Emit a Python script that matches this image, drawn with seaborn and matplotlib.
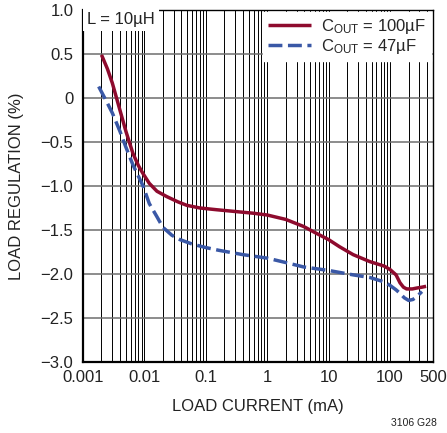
import matplotlib
matplotlib.use("Agg")
import matplotlib.pyplot as plt
from matplotlib.ticker import FixedLocator, FixedFormatter, NullFormatter
import seaborn as sns
import pandas as pd
import numpy as np

sns.set_theme(style="white")
plt.rcParams['font.family'] = ['Liberation Sans Narrow', 'Liberation Sans', 'DejaVu Sans']
plt.rcParams['mathtext.default'] = 'regular'
plt.rcParams['axes.unicode_minus'] = True

# ========== 数据 ==========
i_100uF = [0.002, 0.0025, 0.003, 0.004, 0.005, 0.0065, 0.008, 0.0095, 0.012, 0.016, 0.023,
           0.035, 0.049, 0.08, 0.15, 0.3, 0.6, 1, 2, 3.9, 6, 10, 15, 25, 47, 80, 100,
           125, 145, 165, 186, 230, 270, 330, 386]
reg_100uF = [0.49, 0.33, 0.17, -0.14, -0.38, -0.63, -0.77, -0.86, -0.97, -1.06, -1.12,
             -1.18, -1.22, -1.25, -1.27, -1.29, -1.31, -1.33, -1.38, -1.46, -1.53, -1.61,
             -1.69, -1.78, -1.86, -1.91, -1.95, -2.01, -2.10, -2.15, -2.17, -2.17, -2.16,
             -2.15, -2.14]

i_47uF = [0.0018, 0.0025, 0.003, 0.004, 0.005, 0.0065, 0.0095, 0.012, 0.016, 0.02, 0.028,
          0.038, 0.06, 0.1, 0.16, 0.4, 1, 2, 3.9, 10, 25, 47, 80, 100, 125, 145, 170,
          200, 235, 270, 330]
reg_47uF = [0.13, -0.06, -0.17, -0.38, -0.56, -0.76, -1.0, -1.2, -1.35, -1.47, -1.56,
            -1.61, -1.66, -1.70, -1.73, -1.78, -1.82, -1.87, -1.92, -1.96, -2.01, -2.04,
            -2.09, -2.13, -2.18, -2.22, -2.27, -2.30, -2.29, -2.26, -2.20]

series_names = ["C$_{OUT}$ = 100µF", "C$_{OUT}$ = 47µF"]
series_colors = ["#8E0B2E", "#3A58A6"]

x_ticks = [0.001, 0.01, 0.1, 1, 10, 100, 500]
x_ticklabels = ["0.001", "0.01", "0.1", "1", "10", "100", "500"]
y_ticks = [-3.0, -2.5, -2.0, -1.5, -1.0, -0.5, 0, 0.5, 1.0]
y_ticklabels = ["−3.0", "−2.5", "−2.0", "−1.5", "−1.0", "−0.5", "0", "0.5", "1.0"]

df = pd.concat([
    pd.DataFrame({"current": i_100uF, "reg": reg_100uF, "cap": series_names[0]}),
    pd.DataFrame({"current": i_47uF, "reg": reg_47uF, "cap": series_names[1]}),
], ignore_index=True)

# ========== 绘图 ==========
fig = plt.figure(figsize=(4.47, 4.33), dpi=100)
ax = fig.add_axes([0.1857, 0.164, 0.783, 0.813])
ax.set_xscale("log")

# 网格
minor = []
for dec in [0.001, 0.01, 0.1, 1, 10]:
    minor += [dec * k for k in range(2, 10)]
minor += [200, 300, 400]
ax.xaxis.set_major_locator(FixedLocator(x_ticks))
ax.xaxis.set_major_formatter(FixedFormatter(x_ticklabels))
ax.xaxis.set_minor_locator(FixedLocator(minor))
ax.xaxis.set_minor_formatter(NullFormatter())
ax.set_yticks(y_ticks)
ax.set_yticklabels(y_ticklabels)
ax.grid(True, axis="x", which="both", color="black", lw=0.7, zorder=0)
ax.grid(True, axis="y", which="major", color="#6e6e6e", lw=1.1, zorder=0)
ax.tick_params(axis="both", which="both", length=0, labelsize=12, colors="#222222")
ax.tick_params(axis="y", pad=7)
ax.tick_params(axis="x", pad=6)

sns.lineplot(data=df, x="current", y="reg", hue="cap", style="cap",
             palette=series_colors, dashes=[(1, 0), (4, 1.6)], lw=2.5,
             sort=False, ax=ax, zorder=3)

ax.set_xlim(0.001, 500)
ax.set_ylim(-3.0, 1.0)
ax.set_xlabel("LOAD CURRENT (mA)", fontsize=12, color="#222222", labelpad=10)
ax.set_ylabel("LOAD REGULATION (%)", fontsize=12, color="#222222", labelpad=12)
for sp in ax.spines.values():
    sp.set_color("black")
    sp.set_linewidth(1.0)
ax.spines["left"].set_linewidth(1.6)
ax.spines["bottom"].set_linewidth(1.6)

leg = ax.legend(loc="upper right", frameon=True, fontsize=12, handlelength=2.6,
                borderaxespad=0.1, labelspacing=0.1, handletextpad=0.6,
                fancybox=False, borderpad=0.3)
leg.get_frame().set_edgecolor("white")
leg.get_frame().set_alpha(1)
leg.set_zorder(5)
for h in leg.get_lines():
    h.set_linewidth(2.5)

ax.text(0.012, 0.995, "L = 10µH", transform=ax.transAxes, ha="left", va="top",
        fontsize=12, color="#222222", zorder=6,
        bbox=dict(facecolor="white", edgecolor="none", pad=3))

fig.text(0.925, 0.012, "3106 G28", fontsize=7.5, ha="center", va="bottom", color="#222222")

fig.savefig("out.png", dpi=100)
